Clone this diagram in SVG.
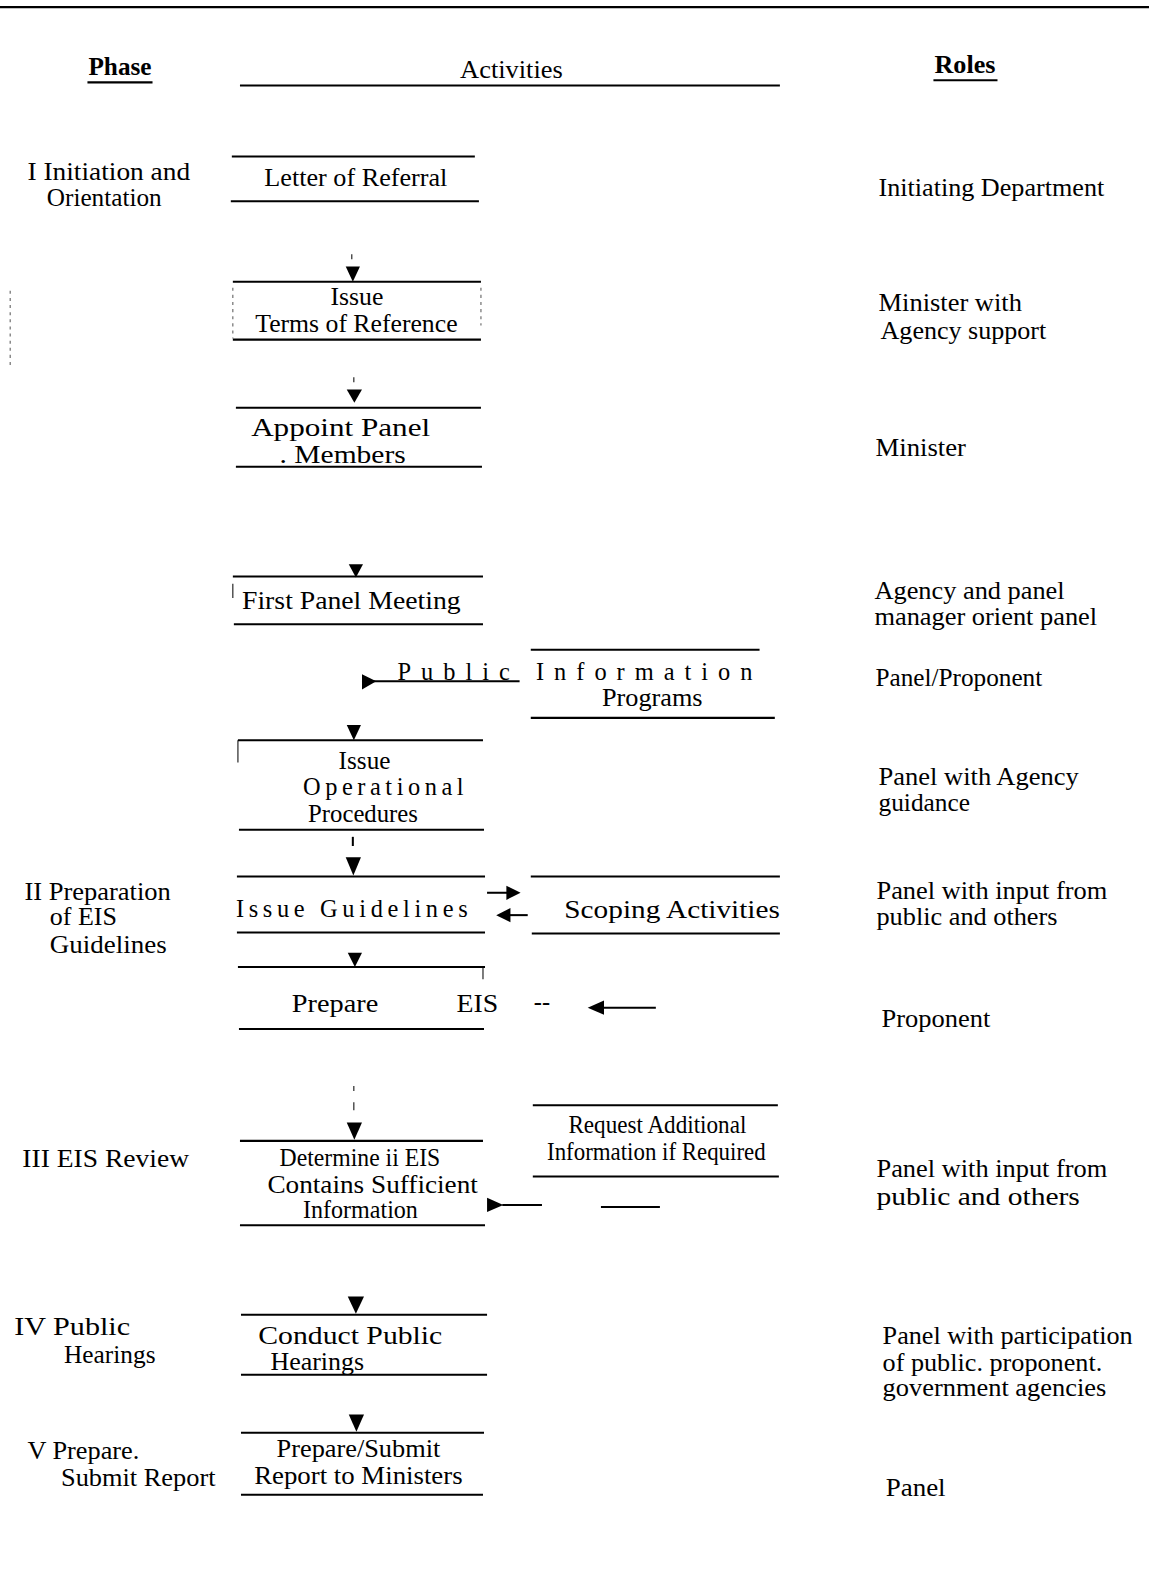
<svg xmlns="http://www.w3.org/2000/svg" width="1149" height="1595" viewBox="0 0 1149 1595">
<style>
.t{font-family:"Liberation Serif","Times New Roman",serif;font-size:24px;fill:#000}
.b{font-weight:bold}
.big{font-size:24px}
.ln{stroke:#000;stroke-width:2;fill:none}
.thin{stroke:#000;stroke-width:1;fill:none}
.dash{stroke:#555;stroke-width:1;stroke-dasharray:3 4;fill:none}
.ah{fill:#000;stroke:none}
</style>
<rect width="1149" height="1595" fill="#fff"/>
<g transform="scale(1.01681)">
<g id="header">
<line class="ln" x1="0" y1="7" x2="1130" y2="7"/>
<text class="t b" x="118" y="74" text-anchor="middle" textLength="62" lengthAdjust="spacingAndGlyphs">Phase</text>
<line class="ln" x1="86" y1="81" x2="150" y2="81"/>
<text class="t" x="503" y="77" text-anchor="middle" textLength="101" lengthAdjust="spacingAndGlyphs">Activities</text>
<line class="ln" x1="236" y1="84" x2="767" y2="84"/>
<text class="t b" x="949" y="72" text-anchor="middle" textLength="60" lengthAdjust="spacingAndGlyphs">Roles</text>
<line class="ln" x1="918" y1="79" x2="981" y2="79"/>
<line class="dash" x1="10" y1="286" x2="10" y2="360"/>
</g>
<g id="phases">
<text class="t" x="27" y="177" textLength="160" lengthAdjust="spacingAndGlyphs">I Initiation and</text>
<text class="t" x="46" y="203" textLength="113" lengthAdjust="spacingAndGlyphs">Orientation</text>
<text class="t" x="24" y="885" textLength="144" lengthAdjust="spacingAndGlyphs">II  Preparation</text>
<text class="t" x="49" y="910" textLength="66" lengthAdjust="spacingAndGlyphs">of EIS</text>
<text class="t" x="49" y="937" textLength="115" lengthAdjust="spacingAndGlyphs">Guidelines</text>
<text class="t" x="22" y="1148" textLength="164" lengthAdjust="spacingAndGlyphs">III EIS Review</text>
<text class="t" x="14" y="1313" textLength="114" lengthAdjust="spacingAndGlyphs">IV  Public</text>
<text class="t" x="63" y="1340" textLength="90" lengthAdjust="spacingAndGlyphs">Hearings</text>
<text class="t" x="27" y="1435" textLength="110" lengthAdjust="spacingAndGlyphs">V Prepare.</text>
<text class="t" x="60" y="1461" textLength="152" lengthAdjust="spacingAndGlyphs">Submit  Report</text>
</g>
<g id="n1">
<line class="ln" x1="228" y1="154" x2="467" y2="154"/>
<line class="ln" x1="227" y1="198" x2="471" y2="198"/>
<text class="t" x="260" y="183" textLength="180" lengthAdjust="spacingAndGlyphs">Letter of Referral</text>
</g>
<g id="n2">
<line class="ln" x1="229" y1="277" x2="473" y2="277"/>
<line class="ln" x1="229" y1="334" x2="473" y2="334"/>
<line class="dash" x1="229" y1="283" x2="229" y2="333"/>
<line class="dash" x1="473" y1="283" x2="473" y2="320"/>
<text class="t" x="351" y="300" text-anchor="middle" textLength="52" lengthAdjust="spacingAndGlyphs">Issue</text>
<text class="t" x="251" y="327" textLength="199" lengthAdjust="spacingAndGlyphs">Terms of Reference</text>
</g>
<g id="n3">
<line class="ln" x1="232" y1="401" x2="473" y2="401"/>
<line class="ln" x1="232" y1="459" x2="474" y2="459"/>
<text class="t big" x="247" y="429" textLength="176" lengthAdjust="spacingAndGlyphs">Appoint  Panel</text>
<text class="t big" x="275" y="455" textLength="124" lengthAdjust="spacingAndGlyphs">. Members</text>
</g>
<g id="n4">
<line class="ln" x1="229" y1="567" x2="475" y2="567"/>
<line class="ln" x1="230" y1="614" x2="475" y2="614"/>
<line class="thin" x1="229" y1="574" x2="229" y2="588"/>
<text class="t" x="238" y="599" textLength="215" lengthAdjust="spacingAndGlyphs">First Panel Meeting</text>
</g>
<g id="n-pip">
<line class="ln" x1="522" y1="639" x2="747" y2="639"/>
<line class="ln" x1="522" y1="706" x2="762" y2="706"/>
<text class="t" x="391" y="669" textLength="349" lengthAdjust="spacing">Public  Information</text>
<text class="t" x="592" y="694" textLength="99" lengthAdjust="spacingAndGlyphs">Programs</text>
</g>
<g id="n5">
<line class="ln" x1="234" y1="728" x2="475" y2="728"/>
<line class="ln" x1="235" y1="816" x2="476" y2="816"/>
<line class="thin" x1="234" y1="728" x2="234" y2="750"/>
<text class="t" x="333" y="756" textLength="51" lengthAdjust="spacingAndGlyphs">Issue</text>
<text class="t" x="298" y="782" textLength="158" lengthAdjust="spacing">Operational</text>
<text class="t" x="303" y="808" textLength="108" lengthAdjust="spacingAndGlyphs">Procedures</text>
</g>
<g id="n6">
<line class="ln" x1="233" y1="862" x2="477" y2="862"/>
<line class="ln" x1="233" y1="917" x2="477" y2="917"/>
<text class="t" x="232" y="902" textLength="228" lengthAdjust="spacing">Issue  Guidelines</text>
</g>
<g id="n-scoping">
<line class="ln" x1="522" y1="862" x2="767" y2="862"/>
<line class="ln" x1="523" y1="918" x2="767" y2="918"/>
<text class="t" x="555" y="903" textLength="212" lengthAdjust="spacingAndGlyphs">Scoping  Activities</text>
</g>
<g id="n7">
<line class="ln" x1="234" y1="951" x2="477" y2="951"/>
<line class="ln" x1="235" y1="1012" x2="476" y2="1012"/>
<line class="thin" x1="475" y1="951" x2="475" y2="963"/>
<text class="t" x="287" y="995" textLength="85" lengthAdjust="spacingAndGlyphs">Prepare</text>
<text class="t" x="449" y="995" textLength="41" lengthAdjust="spacingAndGlyphs">EIS</text>
<text class="t" x="525" y="993" textLength="16" lengthAdjust="spacingAndGlyphs">--</text>
</g>
<g id="n8">
<line class="ln" x1="236" y1="1122" x2="475" y2="1122"/>
<line class="ln" x1="236" y1="1205" x2="477" y2="1205"/>
<text class="t" x="275" y="1147" textLength="158" lengthAdjust="spacingAndGlyphs">Determine ii EIS</text>
<text class="t" x="263" y="1173" textLength="207" lengthAdjust="spacingAndGlyphs">Contains  Sufficient</text>
<text class="t" x="298" y="1198" textLength="113" lengthAdjust="spacingAndGlyphs">Information</text>
</g>
<g id="n-request">
<line class="ln" x1="524" y1="1087" x2="765" y2="1087"/>
<line class="ln" x1="524" y1="1157" x2="766" y2="1157"/>
<text class="t" x="559" y="1114" textLength="175" lengthAdjust="spacingAndGlyphs">Request Additional</text>
<text class="t" x="538" y="1141" textLength="215" lengthAdjust="spacingAndGlyphs">Information if Required</text>
</g>
<g id="n9">
<line class="ln" x1="237" y1="1293" x2="479" y2="1293"/>
<line class="ln" x1="237" y1="1352" x2="479" y2="1352"/>
<text class="t big" x="254" y="1322" textLength="181" lengthAdjust="spacingAndGlyphs">Conduct  Public</text>
<text class="t" x="266" y="1347" textLength="92" lengthAdjust="spacingAndGlyphs">Hearings</text>
</g>
<g id="n10">
<line class="ln" x1="237" y1="1409" x2="476" y2="1409"/>
<line class="ln" x1="237" y1="1470" x2="475" y2="1470"/>
<text class="t" x="272" y="1433" textLength="161" lengthAdjust="spacingAndGlyphs">Prepare/Submit</text>
<text class="t" x="250" y="1459" textLength="205" lengthAdjust="spacingAndGlyphs">Report to Ministers</text>
</g>
<g id="roles">
<text class="t" x="864" y="193" textLength="222" lengthAdjust="spacingAndGlyphs">Initiating Department</text>
<text class="t" x="864" y="306" textLength="141" lengthAdjust="spacingAndGlyphs">Minister with</text>
<text class="t" x="866" y="333" textLength="163" lengthAdjust="spacingAndGlyphs">Agency  support</text>
<text class="t" x="861" y="448" textLength="89" lengthAdjust="spacingAndGlyphs">Minister</text>
<text class="t" x="860" y="589" textLength="187" lengthAdjust="spacingAndGlyphs">Agency and panel</text>
<text class="t" x="860" y="615" textLength="219" lengthAdjust="spacingAndGlyphs">manager  orient  panel</text>
<text class="t" x="861" y="675" textLength="164" lengthAdjust="spacingAndGlyphs">Panel/Proponent</text>
<text class="t" x="864" y="772" textLength="197" lengthAdjust="spacingAndGlyphs">Panel  with Agency</text>
<text class="t" x="864" y="798" textLength="90" lengthAdjust="spacingAndGlyphs">guidance</text>
<text class="t" x="862" y="884" textLength="227" lengthAdjust="spacingAndGlyphs">Panel with input from</text>
<text class="t" x="862" y="910" textLength="178" lengthAdjust="spacingAndGlyphs">public and others</text>
<text class="t" x="867" y="1010" textLength="107" lengthAdjust="spacingAndGlyphs">Proponent</text>
<text class="t" x="862" y="1158" textLength="227" lengthAdjust="spacingAndGlyphs">Panel with input from</text>
<text class="t" x="862" y="1185" textLength="200" lengthAdjust="spacingAndGlyphs">public  and  others</text>
<text class="t" x="868" y="1322" textLength="246" lengthAdjust="spacingAndGlyphs">Panel  with  participation</text>
<text class="t" x="868" y="1348" textLength="216" lengthAdjust="spacingAndGlyphs">of  public.  proponent.</text>
<text class="t" x="868" y="1373" textLength="220" lengthAdjust="spacingAndGlyphs">government agencies</text>
<text class="t" x="871" y="1471" textLength="59" lengthAdjust="spacingAndGlyphs">Panel</text>
</g>
<g id="connectors">
<line class="thin" x1="346" y1="250" x2="346" y2="255"/>
<polygon class="ah" points="340,262 354,262 347,277"/>
<line class="thin" x1="348" y1="371" x2="348" y2="376"/>
<polygon class="ah" points="341,383 356,383 348.5,396"/>
<polygon class="ah" points="343,555 357,555 350,568"/>
<line class="ln" x1="356" y1="670" x2="511" y2="670"/>
<polygon class="ah" points="356,663 356,678 370,670"/>
<polygon class="ah" points="341,713 355,713 348,728"/>
<line class="ln" x1="347" y1="823" x2="347" y2="832"/>
<polygon class="ah" points="340,843 355,843 347.5,861"/>
<line class="ln" x1="479" y1="878" x2="500" y2="878"/>
<polygon class="ah" points="498,871 498,885 512,878"/>
<line class="ln" x1="519" y1="900" x2="500" y2="900"/>
<polygon class="ah" points="502,893 502,907 488,900"/>
<polygon class="ah" points="342,937 356,937 349,951"/>
<line class="ln" x1="645" y1="991" x2="592" y2="991"/>
<polygon class="ah" points="594,984 594,998 578,991"/>
<line class="thin" x1="348" y1="1068" x2="348" y2="1073"/>
<line class="thin" x1="348" y1="1084" x2="348" y2="1092"/>
<polygon class="ah" points="341,1104 356,1104 348.5,1121"/>
<line class="ln" x1="494" y1="1185" x2="533" y2="1185"/>
<polygon class="ah" points="479,1178 479,1192 495,1185"/>
<line class="ln" x1="591" y1="1187" x2="649" y2="1187"/>
<polygon class="ah" points="342,1275 358,1275 350,1292"/>
<polygon class="ah" points="343,1391 358,1391 350.5,1408"/>
</g>
</g>
</svg>
